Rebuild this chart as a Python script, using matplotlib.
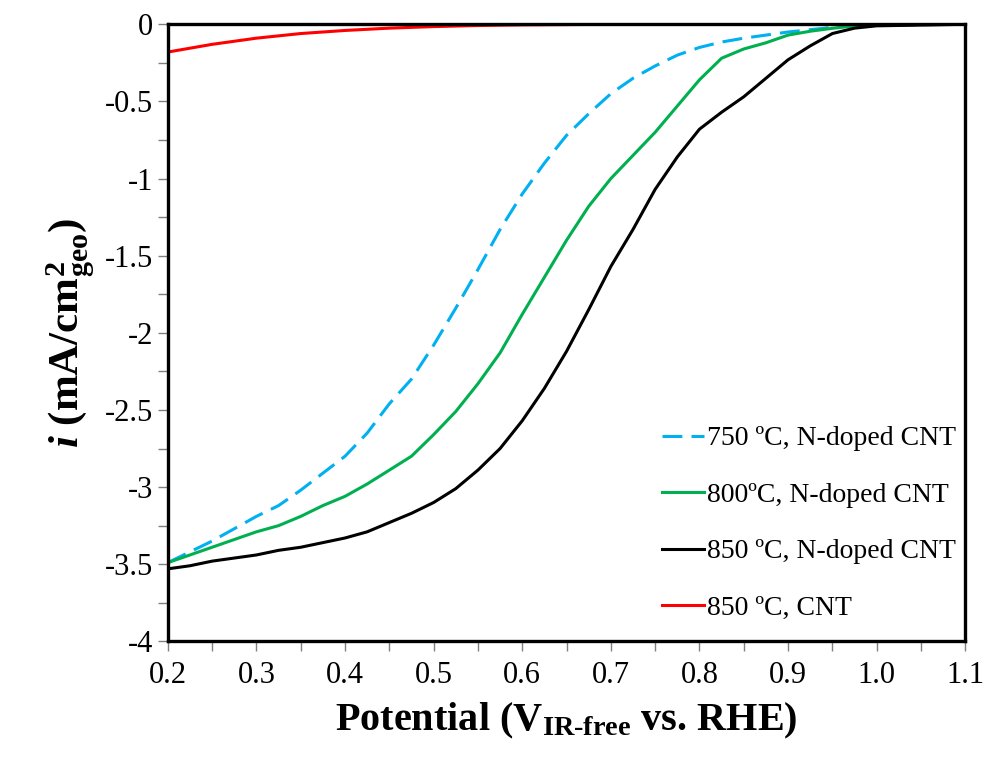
import numpy as np
import matplotlib
matplotlib.use("Agg")
import matplotlib.pyplot as plt
from matplotlib.ticker import MultipleLocator, FormatStrFormatter

plt.rcParams['font.family'] = ['Liberation Serif', 'DejaVu Serif']
plt.rcParams['mathtext.fontset'] = 'custom'
plt.rcParams['mathtext.rm'] = 'Liberation Serif:bold'
plt.rcParams['mathtext.it'] = 'Liberation Serif:bold:italic'
plt.rcParams['mathtext.bf'] = 'Liberation Serif:bold'
plt.rcParams['axes.unicode_minus'] = False

# Potential (V) grid
potential = [0.20, 0.225, 0.25, 0.275, 0.30, 0.325, 0.35, 0.375, 0.40, 0.425,
             0.45, 0.475, 0.50, 0.525, 0.55, 0.575, 0.60, 0.625, 0.65, 0.675,
             0.70, 0.725, 0.75, 0.775, 0.80, 0.825, 0.85, 0.875, 0.90, 0.925,
             0.95, 0.975, 1.00, 1.10]

# current density (mA/cm2_geo)
i_750 = [-3.49, -3.42, -3.35, -3.27, -3.19, -3.12, -3.02, -2.91, -2.80, -2.65,
         -2.46, -2.30, -2.08, -1.84, -1.59, -1.33, -1.10, -0.90, -0.72, -0.58,
         -0.45, -0.35, -0.27, -0.20, -0.15, -0.115, -0.09, -0.07, -0.05, -0.035,
         -0.02, -0.01, -0.005, 0.0]
i_800 = [-3.49, -3.44, -3.39, -3.34, -3.29, -3.25, -3.19, -3.12, -3.06, -2.98,
         -2.89, -2.80, -2.66, -2.51, -2.33, -2.13, -1.88, -1.64, -1.40, -1.18,
         -1.00, -0.85, -0.70, -0.53, -0.36, -0.22, -0.16, -0.12, -0.07, -0.045,
         -0.026, -0.01, -0.003, 0.0]
i_850 = [-3.53, -3.51, -3.48, -3.46, -3.44, -3.41, -3.39, -3.36, -3.33, -3.29,
         -3.23, -3.17, -3.10, -3.01, -2.89, -2.75, -2.57, -2.36, -2.12, -1.85,
         -1.57, -1.33, -1.07, -0.86, -0.68, -0.57, -0.47, -0.35, -0.23, -0.14,
         -0.06, -0.025, -0.01, 0.0]

potential_cnt = [0.20, 0.25, 0.30, 0.35, 0.40, 0.45, 0.50, 0.55, 0.60, 0.70, 1.10]
i_cnt = [-0.18, -0.13, -0.09, -0.06, -0.04, -0.025, -0.015, -0.008, -0.004, 0.0, 0.0]

labels = ['750 ºC, N-doped CNT', '800ºC, N-doped CNT',
          '850 ºC, N-doped CNT', '850 ºC, CNT']

fig = plt.figure(figsize=(9.87, 7.59), dpi=100)
ax = fig.add_axes([0.170, 0.155, 0.808, 0.813])

ax.plot(potential, i_750, color='#00B0F0', lw=2.2, dashes=(6.5, 3), label=labels[0])
ax.plot(potential, i_800, color='#00B050', lw=2.2, label=labels[1])
ax.plot(potential, i_850, color='black', lw=2.2, label=labels[2])
ax.plot(potential_cnt, i_cnt, color='#FF0000', lw=2.2, label=labels[3])

ax.set_xlim(0.2, 1.1)
ax.set_ylim(-4, 0)
ax.xaxis.set_major_locator(MultipleLocator(0.1))
ax.xaxis.set_minor_locator(MultipleLocator(0.05))
ax.yaxis.set_major_locator(MultipleLocator(0.5))
ax.yaxis.set_minor_locator(MultipleLocator(0.25))
ax.xaxis.set_major_formatter(FormatStrFormatter('%.1f'))
ax.yaxis.set_major_formatter(plt.FuncFormatter(lambda v, p: '%g' % v))

for s in ax.spines.values():
    s.set_linewidth(2.4)
ax.tick_params(which='both', direction='out', length=7, width=1, color='#808080',
               labelsize=22, top=False, right=False)
ax.tick_params(axis='x', pad=7)

ax.set_xlabel(r'Potential (V$_{\text{IR-free}}$ vs. RHE)', fontsize=29, fontweight='bold', labelpad=8)
ax.set_ylabel(r'$i$ (mA/cm$^{2}_{\mathrm{geo}}$)', fontsize=31, fontweight='bold', labelpad=6)

ax.legend(loc='lower right', frameon=False, fontsize=20, handlelength=1.5,
          handletextpad=0.1, labelspacing=1.12, borderaxespad=0.2,
          bbox_to_anchor=(1.009, 0.006))

fig.savefig('out.png', dpi=100)
